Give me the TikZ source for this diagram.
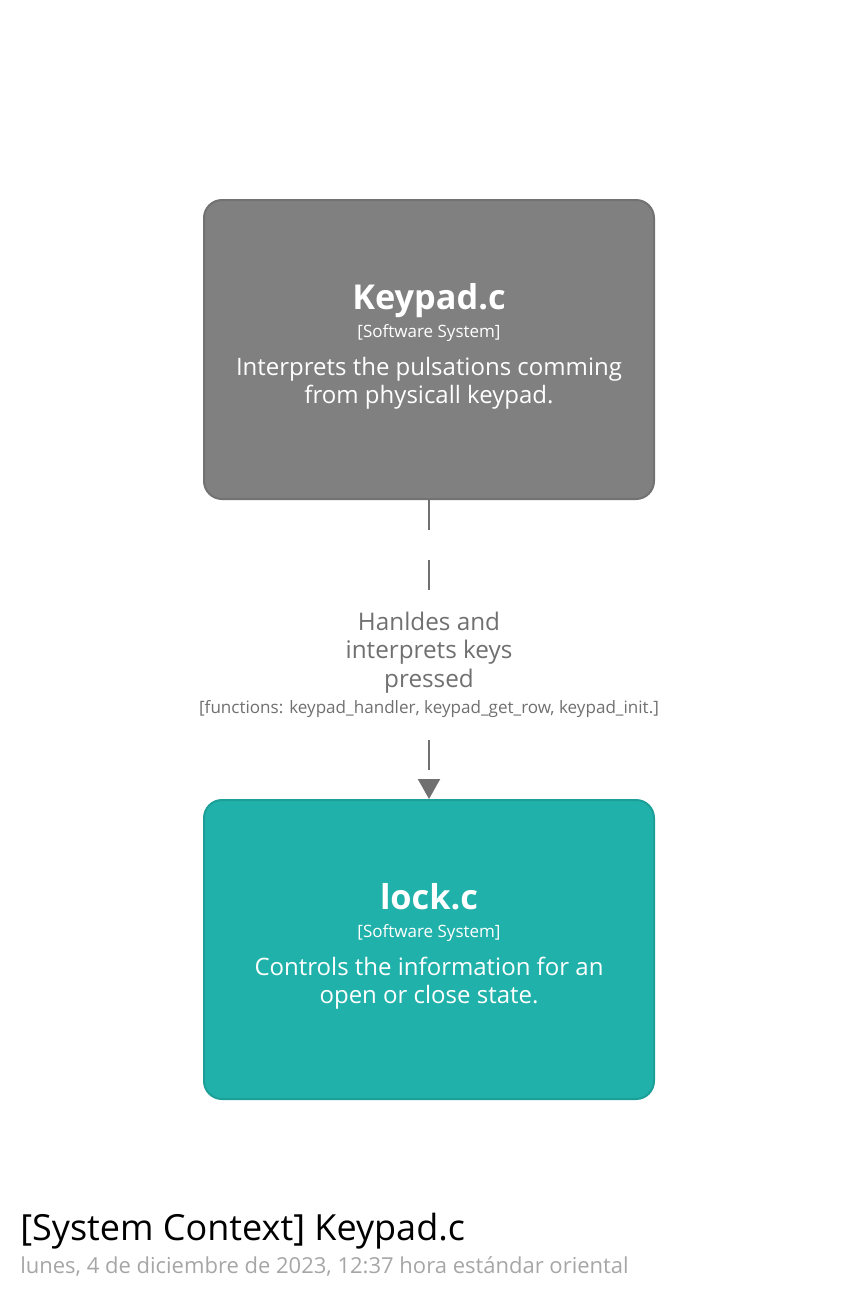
\documentclass[tikz,border=0pt]{standalone}
\usepackage{fontspec}
\setmainfont{Open Sans}
\usetikzlibrary{arrows.meta}
\definecolor{boxgrey}{HTML}{808080}
\definecolor{boxgreyline}{HTML}{727272}
\definecolor{boxteal}{HTML}{20B2AA}
\definecolor{boxtealline}{HTML}{1C9F98}
\definecolor{linkgrey}{HTML}{707070}
\definecolor{dategrey}{HTML}{A6A6A6}
\tikzset{
  sysbox/.style={draw, line width=1.5pt, rounded corners=13.5pt, minimum width=337.5pt, minimum height=224.25pt, inner sep=0pt},
  nametext/.style={text=white, font=\fontsize{25.7}{30}\selectfont\bfseries, anchor=base, inner sep=0pt},
  typetext/.style={text=white, font=\fontsize{12.75}{15}\selectfont, anchor=base, inner sep=0pt},
  desctext/.style={text=white, font=\fontsize{18}{21}\selectfont, anchor=base, inner sep=0pt, align=center},
  linktext/.style={text=linkgrey, font=\fontsize{18.2}{21.2}\selectfont, fill=white, inner xsep=2pt, inner ysep=4pt, align=center},
  techtext/.style={text=linkgrey, font=\fontsize{12.8}{15}\selectfont, fill=white, inner xsep=1pt, inner ysep=3pt, anchor=base},
  link/.style={draw=linkgrey, line width=1.5pt, dash pattern=on 22.5pt off 22.5pt, -{Triangle[length=15pt,width=16.5pt]}},
}
\begin{document}
\begin{tikzpicture}[x=0.75pt,y=-0.75pt]
\useasboundingbox (0,0) rectangle (859,1300);
\node[sysbox, fill=boxgrey, draw=boxgreyline] (keypad) at (429,349.5) {};
\node[nametext] (kname) at (429,309) {Keypad.c};
\node[typetext] (ktype) at (429,337) {[Software System]};
\node[desctext] (kdesc1) at (429,375) {Interprets the pulsations comming};
\node[desctext] (kdesc2) at (429,403) {from physicall keypad.};

\node[sysbox, fill=boxteal, draw=boxtealline] (lock) at (429,949.5) {};
\node[nametext] (lname) at (429,909) {lock.c};
\node[typetext] (ltype) at (429,937) {[Software System]};
\node[desctext] (ldesc1) at (429,975) {Controls the information for an};
\node[desctext] (ldesc2) at (429,1003) {open or close state.};

\draw[link] (keypad.south) -- (lock.north);
\node[linktext, anchor=base] (lbl) at (429,687) {Hanldes and\\interprets keys\\pressed};
\node[techtext] (tech) at (429,713) {[functions: keypad\_handler, keypad\_get\_row, keypad\_init.]};

\node[anchor=base west, inner sep=0pt, font=\fontsize{27}{32}\selectfont] (title) at (20,1240) {[System Context] Keypad.c};
\node[anchor=base west, inner sep=0pt, text=dategrey, font=\fontsize{16.5}{19}\selectfont] (date) at (20,1273) {lunes, 4 de diciembre de 2023, 12:37 hora estándar oriental};
\end{tikzpicture}
\end{document}
